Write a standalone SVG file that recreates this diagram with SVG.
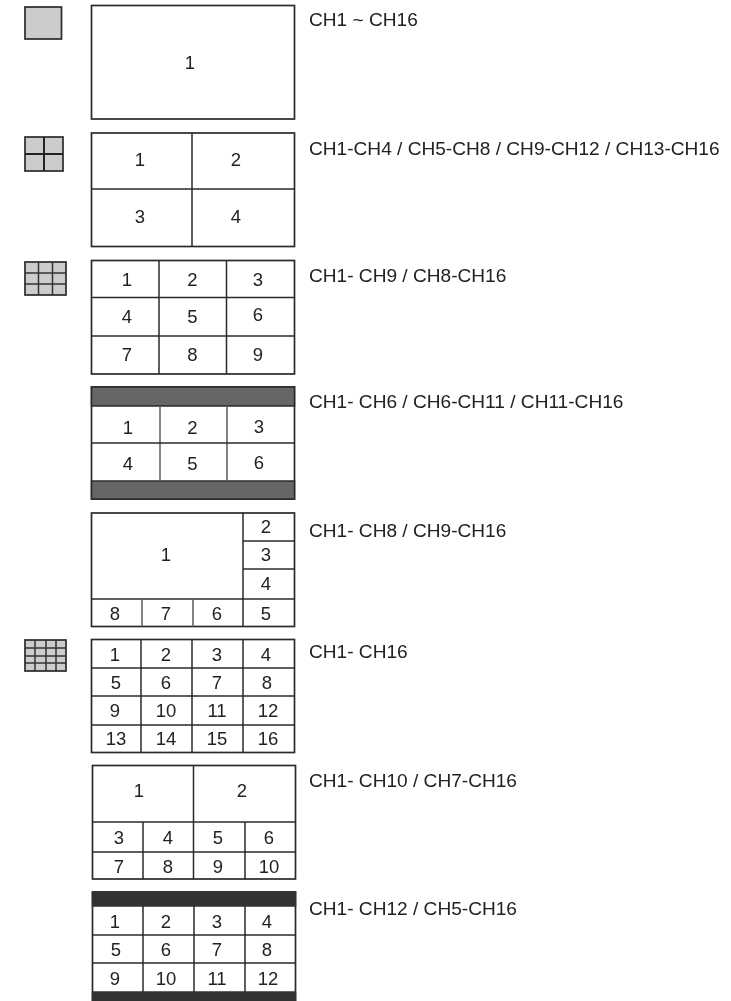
<svg xmlns="http://www.w3.org/2000/svg" width="731" height="1001" viewBox="0 0 731 1001">
<defs><filter id="soft" x="0" y="0" width="731" height="1001" filterUnits="userSpaceOnUse"><feGaussianBlur stdDeviation="0.45"/></filter></defs>
<style>
text{font-family:"Liberation Sans",Arial,sans-serif;fill:#222}
.n{font-size:18.500px;text-anchor:middle}
.c{font-size:19.100px}
.b{fill:#fff;stroke:#2a2a2a;stroke-width:1.7}
.l{fill:none;stroke:#2a2a2a;stroke-width:1.5}
.g{fill:none;stroke:#666;stroke-width:1.6}
.i{fill:#ccc;stroke:#2a2a2a;stroke-width:1.7}
.il{fill:none;stroke:#333;stroke-width:1.5}
.iw{fill:none;stroke:#222;stroke-width:2}
.d{fill:#666;stroke:#2a2a2a;stroke-width:1.5}
.k{fill:#333;stroke:#333;stroke-width:1.5}
</style>
<rect width="731" height="1001" fill="#fff"/>
<g filter="url(#soft)">
<g id="icon-1"><rect class="i" x="25" y="7" width="36.500" height="32"/></g>
<g id="icon-4"><rect class="i" x="25" y="137" width="38" height="34"/><path class="iw" d="M44 137V171M25 154H63"/></g>
<g id="icon-9"><rect class="i" x="25" y="262" width="41" height="33"/><path class="il" d="M38.500 262V295M52.500 262V295M25 273H66M25 284H66"/></g>
<g id="icon-16"><rect class="i" x="25" y="640" width="41" height="31"/><path class="il" d="M35 640V671M46 640V671M56 640V671M25 648H66M25 656H66M25 663H66"/></g>
<g id="layout-1"><rect class="b" x="91.500" y="5.500" width="203" height="113.500"/><text class="n" x="190" y="69">1</text></g>
<g id="layout-4"><rect class="b" x="91.500" y="133" width="203" height="113.500"/><path class="l" d="M192 133V246.500M91.500 189H294.500"/>
<text class="n" x="140" y="166">1</text><text class="n" x="236" y="166">2</text><text class="n" x="140" y="223">3</text><text class="n" x="236" y="223">4</text></g>
<g id="layout-9"><rect class="b" x="91.500" y="260.500" width="203" height="113.500"/><path class="l" d="M159 260.500V374M226.500 260.500V374M91.500 297.500H294.500M91.500 336H294.500"/>
<text class="n" x="127" y="286">1</text><text class="n" x="192.500" y="286">2</text><text class="n" x="258" y="286">3</text>
<text class="n" x="127" y="323">4</text><text class="n" x="192.500" y="323">5</text><text class="n" x="258" y="321">6</text>
<text class="n" x="127" y="361">7</text><text class="n" x="192.500" y="361">8</text><text class="n" x="258" y="361">9</text></g>
<g id="layout-6"><rect class="b" x="91.500" y="387" width="203" height="112"/><rect class="d" x="91.500" y="387" width="203" height="19"/><rect class="d" x="91.500" y="481" width="203" height="18"/>
<path class="g" d="M160 406V481M227 406V481"/><path class="l" d="M91.500 443H294.500"/>
<text class="n" x="128" y="433.500">1</text><text class="n" x="192.500" y="433.500">2</text><text class="n" x="259" y="432.500">3</text>
<text class="n" x="128" y="469.500">4</text><text class="n" x="192.500" y="469.500">5</text><text class="n" x="259" y="468.500">6</text></g>
<g id="layout-8"><rect class="b" x="91.500" y="513" width="203" height="113.500"/><path class="l" d="M243 513V626.500M243 541H294.500M243 569H294.500M91.500 599H294.500"/><path class="g" d="M142 599V626.500M193 599V626.500"/>
<text class="n" x="166" y="561">1</text><text class="n" x="266" y="533">2</text><text class="n" x="266" y="561">3</text><text class="n" x="266" y="590">4</text>
<text class="n" x="115" y="620">8</text><text class="n" x="166" y="620">7</text><text class="n" x="217" y="620">6</text><text class="n" x="266" y="620">5</text></g>
<g id="layout-16"><rect class="b" x="91.500" y="639.500" width="203" height="113"/><path class="l" d="M141 639.500V752.500M192 639.500V752.500M243 639.500V752.500M91.500 668H294.500M91.500 696H294.500M91.500 725H294.500"/>
<text class="n" x="115" y="661">1</text><text class="n" x="166" y="661">2</text><text class="n" x="217" y="661">3</text><text class="n" x="266" y="661">4</text>
<text class="n" x="116" y="688.500">5</text><text class="n" x="166" y="688.500">6</text><text class="n" x="217" y="688.500">7</text><text class="n" x="267" y="688.500">8</text>
<text class="n" x="115" y="717">9</text><text class="n" x="166" y="717">10</text><text class="n" x="217" y="717">11</text><text class="n" x="268" y="717">12</text>
<text class="n" x="116" y="744.500">13</text><text class="n" x="166" y="744.500">14</text><text class="n" x="217" y="744.500">15</text><text class="n" x="268" y="744.500">16</text></g>
<g id="layout-10"><rect class="b" x="92.500" y="765.500" width="203" height="113.500"/><path class="l" d="M193.500 765.500V879M92.500 822H295.500M92.500 852H295.500M143 822V879M245 822V879"/>
<text class="n" x="139" y="797">1</text><text class="n" x="242" y="797">2</text>
<text class="n" x="119" y="844">3</text><text class="n" x="168" y="844">4</text><text class="n" x="218" y="844">5</text><text class="n" x="269" y="844">6</text>
<text class="n" x="119" y="873">7</text><text class="n" x="168" y="873">8</text><text class="n" x="218" y="873">9</text><text class="n" x="269" y="873">10</text></g>
<g id="layout-12"><rect class="b" x="92.500" y="892" width="203" height="112"/><rect class="k" x="92.500" y="892" width="203" height="14"/><rect class="k" x="92.500" y="992" width="203" height="12"/>
<path class="l" d="M143 906V992M194 906V992M245 906V992M92.500 935H295.500M92.500 963H295.500"/>
<text class="n" x="115" y="928">1</text><text class="n" x="166" y="928">2</text><text class="n" x="217" y="928">3</text><text class="n" x="267" y="928">4</text>
<text class="n" x="116" y="956">5</text><text class="n" x="166" y="956">6</text><text class="n" x="217" y="956">7</text><text class="n" x="267" y="956">8</text>
<text class="n" x="115" y="984.500">9</text><text class="n" x="166" y="984.500">10</text><text class="n" x="217" y="984.500">11</text><text class="n" x="268" y="984.500">12</text></g>
<g id="captions">
<text class="c" x="309" y="26">CH1 ~ CH16</text>
<text class="c" x="309" y="155">CH1-CH4 / CH5-CH8 / CH9-CH12 / CH13-CH16</text>
<text class="c" x="309" y="282">CH1- CH9 / CH8-CH16</text>
<text class="c" x="309" y="408">CH1- CH6 / CH6-CH11 / CH11-CH16</text>
<text class="c" x="309" y="537">CH1- CH8 / CH9-CH16</text>
<text class="c" x="309" y="658">CH1- CH16</text>
<text class="c" x="309" y="787">CH1- CH10 / CH7-CH16</text>
<text class="c" x="309" y="915">CH1- CH12 / CH5-CH16</text>
</g>
</g>
</svg>
